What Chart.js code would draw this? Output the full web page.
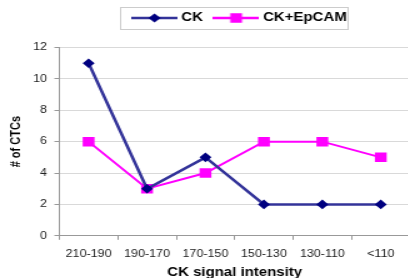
<!DOCTYPE html>
<html>
<head>
<meta charset="utf-8">
<script src="https://cdn.jsdelivr.net/npm/chart.js@4.4.1/dist/chart.umd.min.js"></script>
<style>
html,body{margin:0;padding:0;background:#fff;overflow:hidden;}
#wrap{width:410px;height:278px;position:relative;overflow:hidden;}
#c{width:410px !important;height:278px !important;display:block;}
</style>
</head>
<body>
<div id="wrap"><canvas id="c" width="328" height="278"></canvas></div>
<script>
const categories = ['210-190', '190-170', '170-150', '150-130', '130-110', '<110'];
const ckValues = [11, 3, 5, 2, 2, 2];
const ckEpcamValues = [6, 3, 4, 6, 6, 5];
const yTicks = [0, 2, 4, 6, 8, 10, 12];

const CK_LINE = '#333399';
const CK_MARK = '#000080';
const EP_COLOR = '#FF00FF';
const FONT = 'Liberation Sans, Arial, sans-serif';

function legendImage(kind) {
  const cv = document.createElement('canvas');
  cv.width = 37; cv.height = 12;
  const g = cv.getContext('2d');
  g.strokeStyle = kind === 'ck' ? CK_LINE : EP_COLOR;
  g.lineWidth = 2.5;
  g.beginPath(); g.moveTo(0, 6); g.lineTo(37, 6); g.stroke();
  if (kind === 'ck') {
    g.fillStyle = CK_MARK;
    g.beginPath(); g.moveTo(18.5, 1.5); g.lineTo(23.3, 6); g.lineTo(18.5, 10.5); g.lineTo(13.7, 6); g.closePath(); g.fill();
  } else {
    g.fillStyle = EP_COLOR;
    g.fillRect(13.75, 1.25, 9.5, 9.5);
  }
  return cv;
}
const imgCK = legendImage('ck');
const imgEP = legendImage('ep');

const legendBoxPlugin = {
  id: 'legendBox',
  beforeDraw(chart) {
    const lg = chart.legend;
    if (lg && !lg._shifted) { lg.left += 5; lg.right += 5; lg._shifted = true; }
  },
  afterDraw(chart) {
    const lg = chart.legend;
    if (!lg || !lg.legendHitBoxes || !lg.legendHitBoxes.length) return;
    let l = Infinity, r = -Infinity, t = Infinity, b = -Infinity;
    lg.legendHitBoxes.forEach(h => {
      l = Math.min(l, h.left); r = Math.max(r, h.left + h.width);
      t = Math.min(t, h.top); b = Math.max(b, h.top + h.height);
    });
    const ctx = chart.ctx;
    ctx.save();
    ctx.strokeStyle = '#cccccc';
    ctx.lineWidth = 1;
    const x0 = Math.round(l - 7), x1 = Math.round(r + 5.5);
    const y0 = Math.round(t - 5), y1 = Math.round(b + 5);
    ctx.strokeRect(x0 + 0.5, y0 + 0.5, x1 - x0, y1 - y0);
    ctx.restore();
  }
};

new Chart(document.getElementById('c'), {
  type: 'line',
  data: {
    labels: categories,
    datasets: [
      {
        label: 'CK',
        data: ckValues,
        borderColor: CK_LINE,
        borderWidth: 2.5,
        pointStyle: 'rectRot',
        pointRadius: 4.8,
        pointBackgroundColor: CK_MARK,
        pointBorderColor: CK_MARK,
        pointBorderWidth: 0,
        tension: 0
      },
      {
        label: 'CK+EpCAM',
        data: ckEpcamValues,
        borderColor: EP_COLOR,
        borderWidth: 2,
        pointStyle: 'rect',
        pointRadius: 6.7,
        pointBackgroundColor: EP_COLOR,
        pointBorderColor: EP_COLOR,
        pointBorderWidth: 0,
        tension: 0
      }
    ]
  },
  plugins: [legendBoxPlugin],
  options: {
    responsive: false,
    animation: false,
    events: [],
    layout: { autoPadding: false, padding: { top: 1, right: 0, left: 1.2, bottom: 0 } },
    plugins: {
      tooltip: { enabled: false },
      title: { display: false },
      subtitle: {
        display: true, text: '', position: 'top', weight: 500, fullSize: false,
        font: { size: 10, lineHeight: 1 }, padding: { top: 0, bottom: 3.5 }
      },
      legend: {
        display: true,
        position: 'top',
        fullSize: false,
        labels: {
          usePointStyle: true,
          pointStyleWidth: 31,
          boxHeight: 12,
          padding: 11,
          color: '#000',
          font: { family: FONT, size: 12, weight: 'bold' },
          generateLabels(chart) {
            return chart.data.datasets.map((ds, i) => ({
              text: ds.label,
              pointStyle: i === 0 ? imgCK : imgEP,
              fillStyle: ds.borderColor,
              strokeStyle: ds.borderColor,
              lineWidth: 0,
              hidden: false,
              datasetIndex: i,
              fontColor: '#000'
            }));
          }
        }
      }
    },
    scales: {
      x: {
        offset: true,
        grid: { offset: true, drawOnChartArea: false, drawTicks: true, tickLength: 4, color: '#999' },
        border: { color: '#999', width: 1 },
        ticks: { color: '#222', font: { family: FONT, size: 10 }, padding: 8, maxRotation: 0, autoSkip: false },
        title: { display: true, text: 'CK signal intensity', color: '#000', font: { family: FONT, size: 12, weight: 'bold', lineHeight: 0.85 }, padding: { top: 0, bottom: 0 } }
      },
      y: {
        min: 0, max: 12,
        afterBuildTicks(axis) { axis.ticks = yTicks.map(v => ({ value: v })); },
        grid: { color: '#d9d9d9', tickColor: '#999', tickLength: 4, lineWidth: 1 },
        border: { color: '#999', width: 1 },
        ticks: { color: '#222', font: { family: FONT, size: 10 }, padding: 6 },
        title: { display: true, text: '# of CTCs', color: '#000', font: { family: FONT, size: 11, weight: 'bold' }, padding: { top: 5, bottom: 1 } }
      }
    }
  }
});
</script>
</body>
</html>
